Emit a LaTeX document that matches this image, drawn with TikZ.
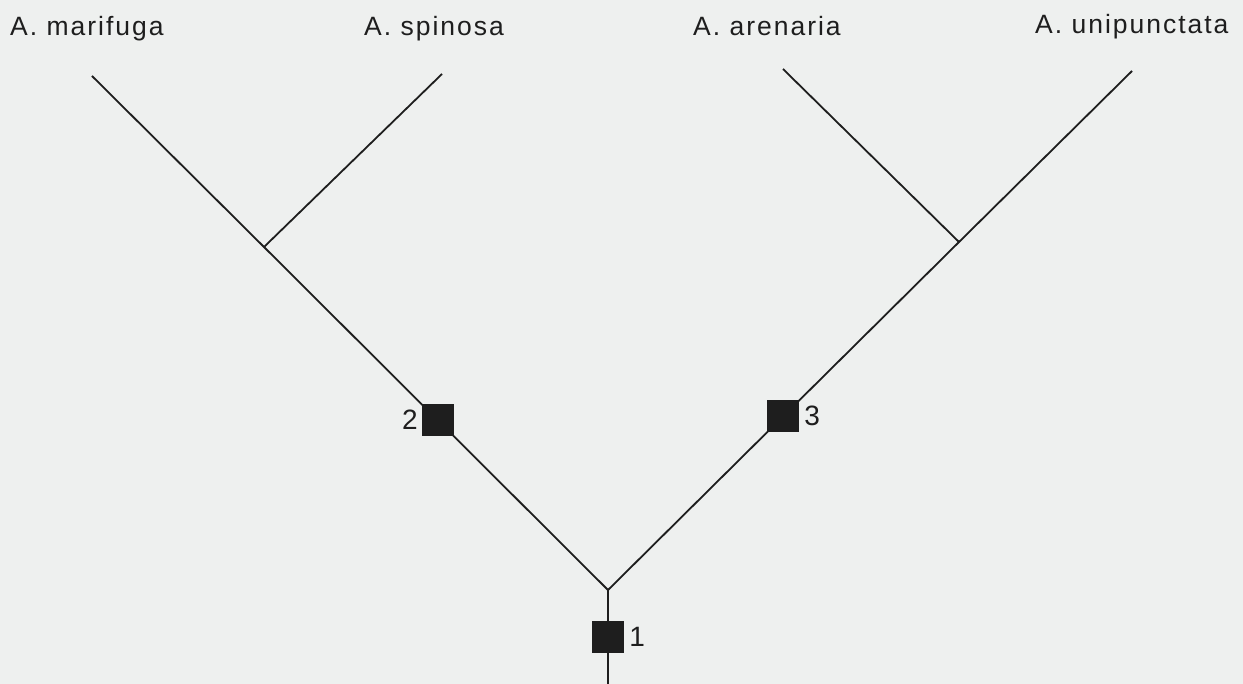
\documentclass[tikz,border=0pt]{standalone}
\usepackage{fontspec}
\setmainfont{Liberation Sans}
\newfontfamily\taxonfont[LetterSpace=7.5]{Liberation Sans}
\usetikzlibrary{positioning}

\definecolor{paper}{RGB}{238,240,239}
\definecolor{ink}{RGB}{30,30,30}

\begin{document}
\begin{tikzpicture}[x=1pt, y=-1pt,
		branch/.style={draw=ink, line width=1.8pt},
		taxon/.style={anchor=base west, inner sep=0pt, text=ink, font=\taxonfont\fontsize{26.5}{30}\selectfont},
		apo/.style={fill=ink, inner sep=0pt, minimum size=32pt},
		apolabel/.style={inner sep=0pt, text=ink, font=\fontsize{28}{30}\selectfont}]
		
		% Paper
		\fill[paper] (0,0) rectangle (1243,684);
		\useasboundingbox (0,0) rectangle (1243,684);
		
		% Taxa
		\node[taxon] (mar) at (10,36) {A. marifuga};
		\node[taxon] (spi) at (364,36) {A. spinosa};
		\node[taxon] (are) at (693,36) {A. arenaria};
		\node[taxon] (uni) at (1035,34) {A. unipunctata};
		
		% Tips and splits
		\coordinate (tmar) at (92,76);
		\coordinate (tspi) at (442,74);
		\coordinate (tare) at (783,69);
		\coordinate (tuni) at (1132,71);
		\coordinate (s12) at (264,247);
		\coordinate (s34) at (959,242);
		\coordinate (root) at (608,590);
		\coordinate (base) at (608,684);
		
		% Branches
		\draw[branch] (tmar) -- (s12) -- (root) -- (s34) -- (tuni);
		\draw[branch] (tspi) -- (s12);
		\draw[branch] (tare) -- (s34);
		\draw[branch] (root) -- (base);
		
		% Characters
		\node[apo] (sq1) at (608,637) {};
		\node[apo] (sq2) at (438,420) {};
		\node[apo] (sq3) at (783,416) {};
		\node[apolabel, right=5pt of sq1] (c1) {1};
		\node[apolabel, left=4pt of sq2] (c2) {2};
		\node[apolabel, right=5pt of sq3] (c3) {3};
		
	\end{tikzpicture}
\end{document}
